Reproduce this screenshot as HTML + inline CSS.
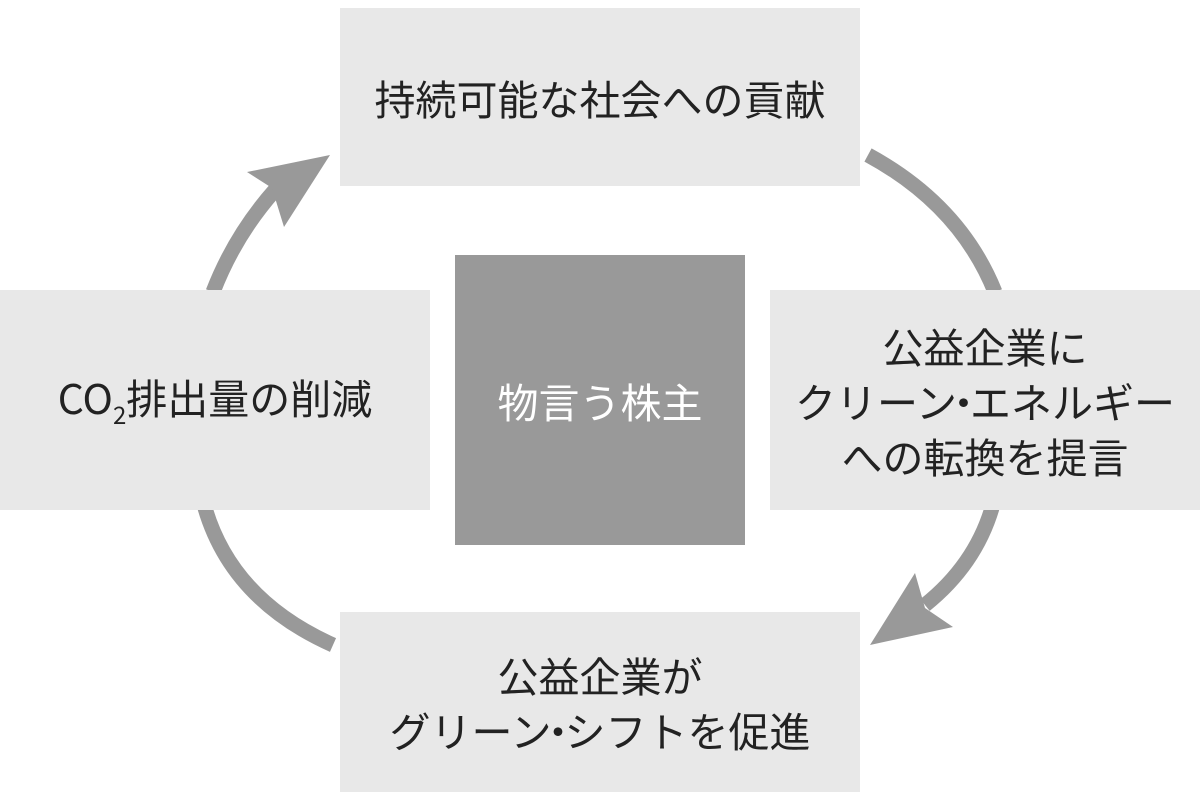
<!DOCTYPE html>
<html><head><meta charset="utf-8"><style>
body{margin:0;width:1200px;height:800px;background:#fff;position:relative;overflow:hidden;font-family:"Noto Sans CJK JP","Liberation Sans",sans-serif;}
.b{position:absolute;background:#e8e8e8;display:flex;align-items:center;justify-content:center;text-align:center;font-size:41px;color:#222;line-height:55px;}
.d{margin:0 -14px;}
</style></head><body>
<svg width="1200" height="800" style="position:absolute;left:0;top:0">
<g fill="none" stroke="#999" stroke-width="15">
<path d="M213 292 Q235 235 275 190"/>
<path d="M868 155 Q960 205 995 292"/>
<path d="M992 508 Q975 565 925 605"/>
<path d="M205 508 Q232 600 333 645"/>
</g>
<polygon points="330,155 247,172 272,188 284,227" fill="#999"/>
<polygon points="870,645 915,573 925,608 953,627" fill="#999"/>
</svg>
<div class="b" style="left:340px;top:8px;width:520px;height:178px"><div>持続可能な社会への貢献</div></div>
<div class="b" style="left:770px;top:290px;width:430px;height:220px"><div>公益企業に<br>クリーン<span class="d">・</span>エネルギー<br>への転換を提言</div></div>
<div class="b" style="left:340px;top:612px;width:520px;height:180px"><div>公益企業が<br>グリーン<span class="d">・</span>シフトを促進</div></div>
<div class="b" style="left:0;top:290px;width:430px;height:220px"><div>CO<span style="font-size:24px;position:relative;top:10px">2</span>排出量の削減</div></div>
<div class="b" style="left:455px;top:255px;width:290px;height:290px;background:#999;color:#fff"><div>物言う株主</div></div>
</body></html>
